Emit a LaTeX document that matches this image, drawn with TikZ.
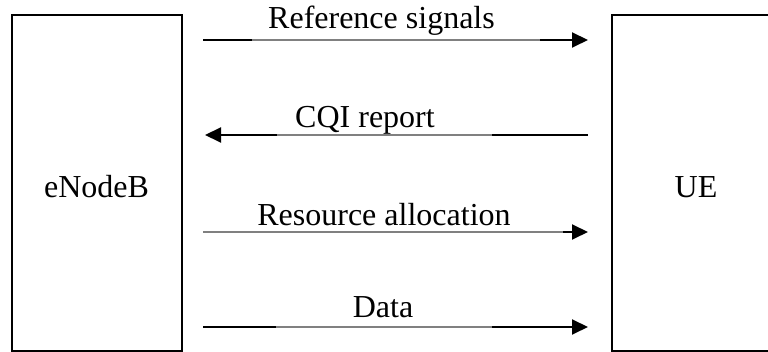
\documentclass[tikz,border=0pt]{standalone}
\usepackage{fontspec}
\setmainfont{Liberation Serif}
\usetikzlibrary{arrows.meta}
\begin{document}
\begin{tikzpicture}[x=0.5pt,y=-0.5pt,
  entity/.style={draw=black,line width=1pt,minimum width=85pt,minimum height=168pt,inner sep=0pt},
  lbl/.style={font=\fontsize{16}{19}\selectfont,anchor=base,inner sep=0pt},
  msg/.style={draw=black,line width=1pt,-{Triangle[length=8pt,width=7.5pt]}},
  fade/.style={draw=gray,line width=0.9pt}]
\useasboundingbox (0,0) rectangle (768,352);
% base stations and terminal
\node[entity] (enb) at (96.5,183) {};
\node[entity] (ue) at (697,183) {};
\node[lbl] at (96.5,198) {eNodeB};
\node[lbl] at (696,198) {UE};
% message end points
\coordinate (a1) at (203,40);  \coordinate (b1) at (588,40);
\coordinate (a2) at (205,135); \coordinate (b2) at (588,135);
\coordinate (a3) at (203,232); \coordinate (b3) at (588,232);
\coordinate (a4) at (203,327); \coordinate (b4) at (588,327);
% messages
\draw[msg] (a1) -- (b1);
\draw[fade] (252,40) -- (540,40);
\node[lbl] at (381.5,29) {Reference signals};
\draw[msg] (b2) -- (a2);
\draw[fade] (277,135) -- (492,135);
\node[lbl] at (365,128) {CQI report};
\draw[msg] (a3) -- (b3);
\draw[fade] (203,232) -- (563,232);
\node[lbl] at (384,226) {Resource allocation};
\draw[msg] (a4) -- (b4);
\draw[fade] (276,327) -- (492,327);
\node[lbl] at (383,318) {Data};
\end{tikzpicture}
\end{document}
